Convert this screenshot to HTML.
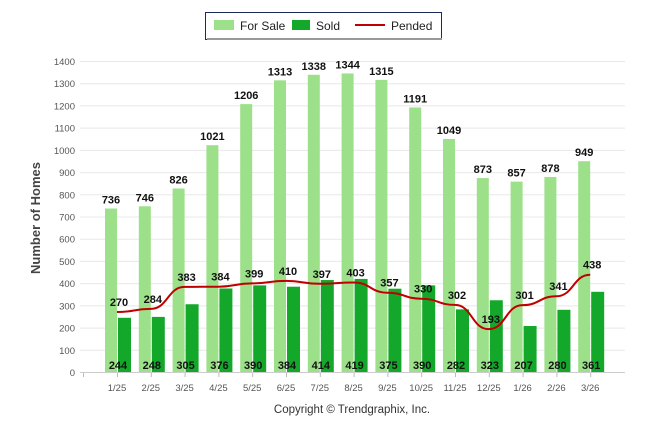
<!DOCTYPE html>
<html><head><meta charset="utf-8"><style>
body{margin:0;background:#fff;width:646px;height:434px;overflow:hidden;font-family:"Liberation Sans",Arial,sans-serif}
</style></head><body>
<svg id="chart" width="646" height="434" xmlns="http://www.w3.org/2000/svg">
<g>
<rect x="205.5" y="12.5" width="236" height="27" fill="#fff" stroke="#1a2a5a" stroke-width="1"/>
<rect x="207" y="38" width="235" height="2" fill="#999"/>
<rect x="214" y="20" width="20" height="10" fill="#9de08a"/>
<text x="240" y="30" font-size="12" fill="#222">For Sale</text>
<rect x="292" y="20" width="18" height="10" fill="#14a82a"/>
<text x="316" y="30" font-size="12" fill="#222">Sold</text>
<line x1="355" y1="25" x2="385" y2="25" stroke="#c00000" stroke-width="2"/>
<text x="391" y="30" font-size="12" fill="#222">Pended</text>
</g>
<text transform="translate(40,218) rotate(-90)" text-anchor="middle" font-size="13" font-weight="bold" fill="#444">Number of Homes</text>
<text x="352" y="413" text-anchor="middle" font-size="11.5" fill="#333">Copyright © Trendgraphix, Inc.</text>
<g id="grid"></g><g id="bars"></g><g id="line"></g><g id="labels"></g>
</svg>
<script>
const categories=["1/25","2/25","3/25","4/25","5/25","6/25","7/25","8/25","9/25","10/25","11/25","12/25","1/26","2/26","3/26"];
const forSale=[736,746,826,1021,1206,1313,1338,1344,1315,1191,1049,873,857,878,949];
const sold=[244,248,305,376,390,384,414,419,375,390,282,323,207,280,361];
const pended=[270,284,383,384,399,410,397,403,357,330,302,193,301,341,438];
const yTicks=[0,100,200,300,400,500,600,700,800,900,1000,1100,1200,1300,1400];
const NS="http://www.w3.org/2000/svg";
const y=v=>372-v*311/1400;
const x=i=>117+i*33.8;
function mk(t,a,p,txt){const e=document.createElementNS(NS,t);for(const k in a)e.setAttribute(k,a[k]);if(txt!==undefined)e.textContent=txt;document.getElementById(p).appendChild(e);return e;}
yTicks.forEach(v=>{
 const g=mk('line',{x1:80,x2:625,y1:y(v)+.5,y2:y(v)+.5,stroke:v===0?'#ccc':'#e8e8e8','stroke-width':1},'grid');
 
 
 const t=mk('text',{x:75,y:y(v)+4,'text-anchor':'end','font-size':9.5,fill:'#555'},'grid',v);
 
 
});
mk('line',{x1:83.5,x2:83.5,y1:373,y2:377,stroke:'#bbb'},'grid');
categories.forEach((c,i)=>{
 mk('line',{x1:x(i)+.5,x2:x(i)+.5,y1:373,y2:377,stroke:'#bbb'},'grid');
 const t=mk('text',{x:x(i),y:391,'text-anchor':'middle','font-size':9.5,fill:'#555'},'grid',c);
 
 
 const b=mk('rect',{x:x(i)-12,y:y(forSale[i]),width:12,height:372-y(forSale[i]),fill:'#9de08a'},'bars');
 
 
 const s=mk('rect',{x:x(i)+1,y:y(sold[i]),width:13,height:372-y(sold[i]),fill:'#14a82a'},'bars');
 
 
 const l1=mk('text',{x:x(i)-6,y:y(forSale[i])-5,'text-anchor':'middle','font-size':11,'font-weight':'bold',fill:'#111'},'labels',forSale[i]);
 
 
 const l2=mk('text',{x:x(i)+1,y:369,'text-anchor':'middle','font-size':11,'font-weight':'bold',fill:'#111'},'labels',sold[i]);
 
 
 const l3=mk('text',{x:x(i)+2,y:y(pended[i])-6,'text-anchor':'middle','font-size':11,'font-weight':'bold',fill:'#111'},'labels',pended[i]);
 
 
});
let d='M'+x(0)+','+y(pended[0]);
for(let i=1;i<pended.length;i++){
 const x0=x(i-1),x1=x(i),m=(x0+x1)/2;
 d+=` C${m},${y(pended[i-1])} ${m},${y(pended[i])} ${x1},${y(pended[i])}`;
}
const p=mk('path',{d:d,fill:'none',stroke:'#c00000','stroke-width':2},'line');


</script>
</body></html>
